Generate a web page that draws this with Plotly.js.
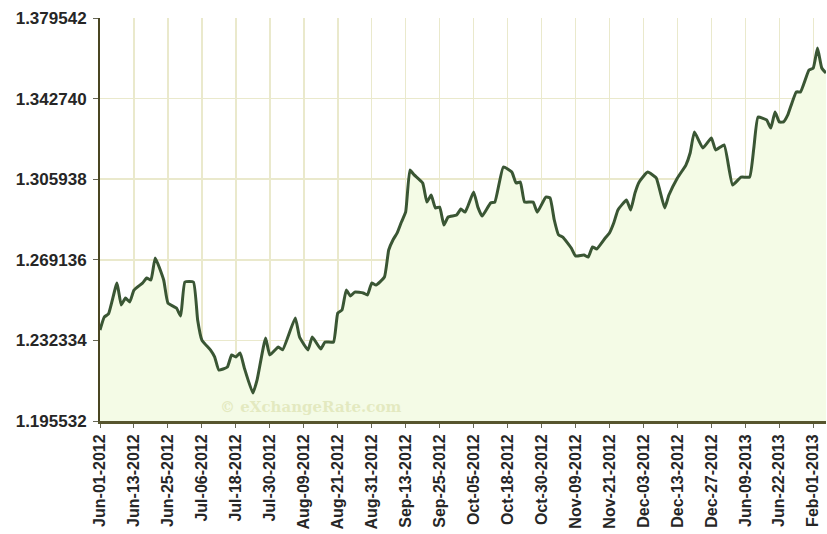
<!DOCTYPE html>
<html>
<head>
<meta charset="utf-8">
<script src="https://cdn.plot.ly/plotly-3.0.1.min.js"></script>
<style>
  html, body { margin: 0; padding: 0; background: #ffffff; }
  #chart { width: 827px; height: 534px; }
</style>
</head>
<body>
<div id="chart"></div>
<script>
// Trading-day index (one tick label every 8 trading days)
const dayIndex = [0,1,2,4,5,6,7,8,10,11,12,13,15,16,18,19,20,22,23,24,26,27,28,30,31,32,33,34,36,37,39,40,42,43,46,47,49,50,52,53,55,56,57,58,59,60,62,63,64,65,67,68,69,70,71,72,73,74,76,77,78,79,80,81,82,84,85,86,88,89,90,92,93,95,97,98,99,100,102,103,105,106,107,108,109,111,112,114,115,116,117,119,120,121,122,124,125,126,127,129,131,133,134,136,138,139,140,142,144,145,147,149,151,153,154,155,157,158,159,160,161,162,164,165,167,168,169,170,171];

const rate = [1.2371,1.2430,1.2444,1.2585,1.2485,1.2517,1.2499,1.2553,1.2585,1.2608,1.2599,1.2700,1.2599,1.2494,1.2471,1.2435,1.2590,1.2590,1.2417,1.2325,1.2280,1.2248,1.2188,1.2202,1.2257,1.2248,1.2266,1.2197,1.2083,1.2143,1.2334,1.2257,1.2293,1.2280,1.2426,1.2339,1.2280,1.2339,1.2284,1.2316,1.2316,1.2448,1.2462,1.2553,1.2526,1.2544,1.2540,1.2531,1.2585,1.2576,1.2613,1.2736,1.2782,1.2814,1.2864,1.2910,1.3101,1.3079,1.3042,1.2955,1.2987,1.2928,1.2932,1.2850,1.2887,1.2896,1.2923,1.2909,1.3001,1.2932,1.2891,1.2951,1.2955,1.3115,1.3092,1.3042,1.3047,1.2955,1.2955,1.2909,1.2978,1.2974,1.2873,1.2805,1.2795,1.2745,1.2709,1.2713,1.2704,1.2750,1.2741,1.2791,1.2814,1.2859,1.2919,1.2964,1.2919,1.2996,1.3047,1.3092,1.3065,1.2928,1.2987,1.3065,1.3124,1.3179,1.3275,1.3202,1.3248,1.3193,1.3216,1.3033,1.3069,1.3069,1.3202,1.3343,1.3330,1.3293,1.3366,1.3321,1.3321,1.3353,1.3458,1.3458,1.3558,1.3567,1.3658,1.3567,1.3544];

const tickLabels = ["Jun-01-2012","Jun-13-2012","Jun-25-2012","Jul-06-2012","Jul-18-2012","Jul-30-2012","Aug-09-2012","Aug-21-2012","Aug-31-2012","Sep-13-2012","Sep-25-2012","Oct-05-2012","Oct-18-2012","Oct-30-2012","Nov-09-2012","Nov-21-2012","Dec-03-2012","Dec-13-2012","Dec-27-2012","Jun-09-2013","Jun-22-2013","Feb-01-2013"];
const labelStep = 8;

const yTicks = [1.195532, 1.232334, 1.269136, 1.305938, 1.342740, 1.379542];

const watermark = "© eXchangeRate.com";

const trace = {
  x: dayIndex,
  y: rate,
  type: 'scatter',
  mode: 'lines',
  fill: 'tozeroy',
  fillcolor: '#f4fbe6',
  line: { color: '#3a5634', width: 3, shape: 'spline', smoothing: 0.4 },
  hoverinfo: 'skip'
};

const layout = {
  width: 827,
  height: 534,
  margin: { l: 100, r: 1, t: 18, b: 113 },
  paper_bgcolor: '#ffffff',
  plot_bgcolor: '#ffffff',
  showlegend: false,
  xaxis: {
    type: 'linear',
    range: [0, 171],
    tickmode: 'array',
    tickvals: tickLabels.map((_, i) => i * labelStep),
    ticktext: tickLabels,
    tickangle: -90,
    tickfont: { family: 'Liberation Sans, Arial, sans-serif', size: 16, color: '#262626', weight: 'bold' },
    ticks: 'outside',
    ticklen: 4,
    tickcolor: '#666655',
    showgrid: true,
    gridcolor: '#eae9cc',
    gridwidth: 1.5,
    zeroline: false,
    showline: true,
    linecolor: '#57552e',
    linewidth: 3
  },
  yaxis: {
    range: [yTicks[0], yTicks[yTicks.length - 1]],
    tickmode: 'array',
    tickvals: yTicks,
    ticktext: yTicks.map(v => v.toFixed(6)),
    tickfont: { family: 'Liberation Sans, Arial, sans-serif', size: 17, color: '#262626', weight: 'bold' },
    ticklabelstandoff: 3,
    ticks: 'outside',
    ticklen: 5,
    tickcolor: '#666655',
    showgrid: true,
    gridcolor: '#eae9cc',
    gridwidth: 1.5,
    zeroline: false,
    showline: true,
    linecolor: '#4a4622',
    linewidth: 2
  },
  annotations: [{
    xref: 'paper', yref: 'paper',
    x: 0.29, y: 0.035,
    xanchor: 'center', yanchor: 'middle',
    text: watermark,
    showarrow: false,
    font: { family: 'DejaVu Serif, serif', size: 15, color: 'rgba(222,228,180,0.75)', weight: 'bold' }
  }]
};

Plotly.newPlot('chart', [trace], layout, { staticPlot: true, displayModeBar: false });
</script>
</body>
</html>
